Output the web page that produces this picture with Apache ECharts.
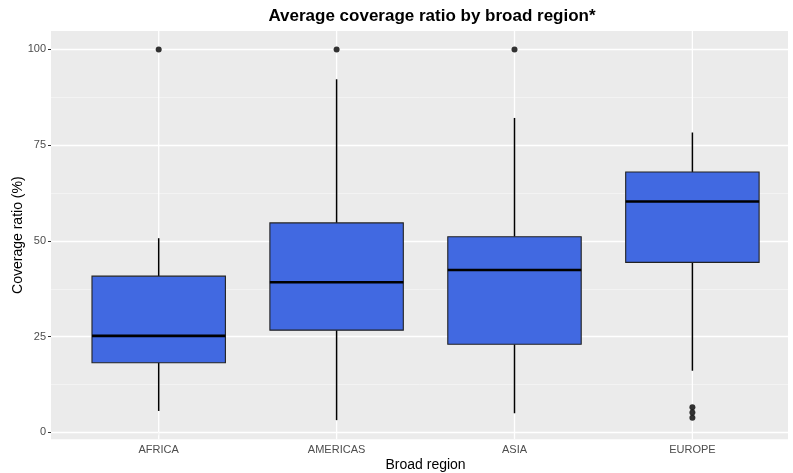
<!DOCTYPE html>
<html>
<head>
<meta charset="utf-8">
<script src="https://cdn.jsdelivr.net/npm/echarts@6/dist/echarts.min.js"></script>
<style>
html,body{margin:0;padding:0;background:#fff;}
#chart{width:793px;height:473px;}
</style>
</head>
<body>
<div id="chart"></div>
<script>
// ---- data ----
const categories = ['AFRICA', 'AMERICAS', 'ASIA', 'EUROPE'];
const whiskerLow  = [5.6, 3.2, 5.0, 16.1];
const q1          = [18.2, 26.7, 23.0, 44.4];
const median      = [25.2, 39.2, 42.4, 60.3];
const q3          = [40.8, 54.7, 51.1, 68.0];
const whiskerHigh = [50.7, 92.2, 82.1, 78.3];
const outlierRegion = ['AFRICA', 'AMERICAS', 'ASIA', 'EUROPE', 'EUROPE', 'EUROPE'];
const outlierValue  = [100, 100, 100, 6.6, 5.2, 3.8];
const yTicks = [0, 25, 50, 75, 100];

// ---- layout ----
const W = 793, H = 473;
const PANEL = {left: 51, right: 788, top: 31, bottom: 439.3};
const Y_MIN = -1.8, Y_MAX = 104.8;
const firstCenter = 158.7, catStep = 177.9;
const BOX_W = 0.75;
const ppu = (PANEL.bottom - PANEL.top) / (Y_MAX - Y_MIN);
const g1Top = PANEL.top + (Y_MAX - yTicks[yTicks.length - 1]) * ppu;
const g1Bottom = H - (PANEL.bottom - (yTicks[0] - Y_MIN) * ppu);
const g2Left = firstCenter - catStep / 2;
const g2Width = catStep * categories.length;

const boxData = categories.map((c, i) => [i, whiskerLow[i], q1[i], median[i], q3[i], whiskerHigh[i]]);
const outData = outlierRegion.map((r, i) => [categories.indexOf(r), outlierValue[i]]);

const FONT = 'Liberation Sans, Arial, sans-serif';
const chart = echarts.init(document.getElementById('chart'), null, {renderer: 'canvas'});
chart.setOption({
  animation: false,
  backgroundColor: '#ffffff',
  title: {
    text: 'Average coverage ratio by broad region*',
    left: 427, top: 3, textAlign: 'center',
    textStyle: {fontFamily: FONT, fontWeight: 'bold', fontSize: 17, color: '#000'}
  },
  grid: [
    {left: PANEL.left, right: W - PANEL.right, top: PANEL.top, bottom: H - PANEL.bottom,
     show: true, backgroundColor: '#EBEBEB', borderWidth: 0, containLabel: false, outerBoundsMode: 'none'},
    {left: PANEL.left, right: W - PANEL.right, top: g1Top, bottom: g1Bottom, containLabel: false, outerBoundsMode: 'none'},
    {left: g2Left, width: g2Width, top: PANEL.top, bottom: H - PANEL.bottom, containLabel: false, outerBoundsMode: 'none'}
  ],
  xAxis: [
    {gridIndex: 0, type: 'value', show: false, min: 0, max: 1},
    {gridIndex: 1, type: 'value', show: false, min: 0, max: 1},
    {gridIndex: 2, type: 'category', data: categories, boundaryGap: true,
     name: 'Broad region', nameLocation: 'middle', nameGap: 19, nameMoveOverlap: false,
     nameTextStyle: {fontFamily: FONT, fontSize: 14, color: '#000'},
     axisLine: {show: false},
     axisTick: {show: true, alignWithLabel: true, length: 3, lineStyle: {color: '#333', width: 1}},
     axisLabel: {fontFamily: FONT, fontSize: 11, color: '#4D4D4D', margin: 5},
     splitLine: {show: false}}
  ],
  yAxis: [
    {gridIndex: 0, type: 'value', min: Y_MIN, max: Y_MAX,
     name: 'Coverage ratio (%)', nameLocation: 'middle', nameGap: 26, nameMoveOverlap: false,
     nameTextStyle: {fontFamily: FONT, fontSize: 14, color: '#000'},
     axisLine: {show: false}, axisTick: {show: false}, axisLabel: {show: false}, splitLine: {show: false}},
    {gridIndex: 1, type: 'value', min: yTicks[0], max: yTicks[yTicks.length - 1], interval: 25,
     axisLine: {show: false},
     axisTick: {show: true, length: 3, lineStyle: {color: '#333', width: 1}},
     axisLabel: {fontFamily: FONT, fontSize: 11, color: '#4D4D4D', margin: 5},
     splitLine: {show: true, lineStyle: {color: '#ffffff', width: 1.3}},
     minorTick: {show: false, splitNumber: 2},
     minorSplitLine: {show: true, lineStyle: {color: '#F6F6F6', width: 0.7}}},
    {gridIndex: 2, type: 'value', min: Y_MIN, max: Y_MAX, show: false}
  ],
  series: [
    {
      type: 'custom', xAxisIndex: 2, yAxisIndex: 2, data: boxData,
      encode: {x: 0, y: [1, 2, 3, 4, 5]},
      clip: false,
      renderItem: function (params, api) {
        const i = api.value(0);
        const band = api.size([1, 0])[0];
        const w = band * BOX_W;
        const x = api.coord([i, api.value(3)])[0];
        const yLo = api.coord([i, api.value(1)])[1];
        const yQ1 = api.coord([i, api.value(2)])[1];
        const yMed = api.coord([i, api.value(3)])[1];
        const yQ3 = api.coord([i, api.value(4)])[1];
        const yHi = api.coord([i, api.value(5)])[1];
        const yTop = api.coord([i, Y_MAX])[1];
        const yBot = api.coord([i, Y_MIN])[1];
        return {
          type: 'group',
          children: [
            {type: 'line', shape: {x1: x, y1: yTop, x2: x, y2: yBot}, style: {stroke: '#ffffff', lineWidth: 1.3}},
            {type: 'line', shape: {x1: x, y1: yLo, x2: x, y2: yQ1}, style: {stroke: '#000', lineWidth: 1.5}},
            {type: 'line', shape: {x1: x, y1: yQ3, x2: x, y2: yHi}, style: {stroke: '#000', lineWidth: 1.5}},
            {type: 'rect', shape: {x: x - w / 2, y: yQ3, width: w, height: yQ1 - yQ3},
             style: {fill: '#4169E1', stroke: '#222', lineWidth: 1.1}},
            {type: 'line', shape: {x1: x - w / 2, y1: yMed, x2: x + w / 2, y2: yMed}, style: {stroke: '#000', lineWidth: 2.6}}
          ]
        };
      },
      z: 3
    },
    {
      type: 'scatter', xAxisIndex: 2, yAxisIndex: 2, data: outData,
      symbol: 'circle', symbolSize: 6, itemStyle: {color: '#000'}, z: 4
    }
  ]
});
</script>
</body>
</html>
